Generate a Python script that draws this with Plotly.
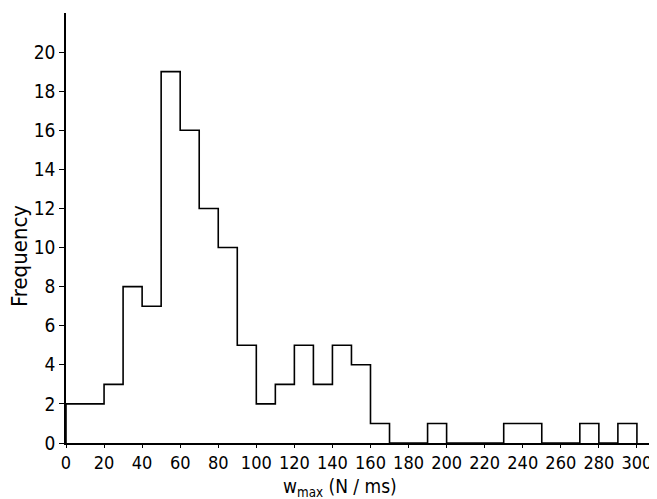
import plotly.graph_objects as go

# histogram of w_max, bin width 10 N/ms
bin_edges = list(range(0, 310, 10))
counts = [2, 2, 3, 8, 7, 19, 16, 12, 10, 5,
          2, 3, 5, 3, 5, 4, 1, 0, 0, 1,
          0, 0, 0, 1, 1, 0, 0, 1, 0, 1]

x_ticks = list(range(0, 310, 20))
y_ticks = list(range(0, 22, 2))

FONT = "DejaVu Sans Condensed, DejaVu Sans, sans-serif"

# step outline: start at baseline, go up, end back at baseline
xs = [bin_edges[0]] + bin_edges
ys = [0] + counts + [0]

fig = go.Figure()

fig.add_trace(
    go.Scatter(
        x=xs,
        y=ys,
        mode="lines",
        line={"color": "black", "width": 1.6, "shape": "hv"},
        showlegend=False,
        hoverinfo="skip",
    )
)

# page body has an 8px margin, so the figure is a bit smaller than the window
fig.update_layout(
    width=649,
    height=491,
    margin={"l": 58, "r": 2, "t": 5, "b": 56},
    plot_bgcolor="white",
    paper_bgcolor="white",
    font={"family": FONT, "size": 18, "color": "black"},
    xaxis={
        "range": [0, 309.5],
        "tickvals": x_ticks,
        "ticks": "outside",
        "ticklen": 3,
        "tickwidth": 1,
        "tickcolor": "black",
        "tickfont": {"family": FONT, "size": 18},
        "showline": True,
        "linecolor": "black",
        "linewidth": 1.5,
        "showgrid": False,
        "zeroline": False,
        "fixedrange": True,
    },
    yaxis={
        "range": [0, 22],
        "tickvals": y_ticks,
        "ticks": "outside",
        "ticklen": 5,
        "tickwidth": 1,
        "tickcolor": "black",
        "tickfont": {"family": FONT, "size": 19},
        "showline": True,
        "linecolor": "black",
        "linewidth": 1.5,
        "showgrid": False,
        "zeroline": False,
        "fixedrange": True,
    },
    annotations=[
        {
            "text": "w<sub>max</sub> (N / ms)",
            "xref": "paper", "yref": "paper",
            "x": 0.465, "y": -0.104,
            "xanchor": "center", "yanchor": "middle",
            "showarrow": False,
            "font": {"family": FONT, "size": 19},
        },
        {
            "text": "Frequency",
            "xref": "paper", "yref": "paper",
            "x": -0.078, "y": 0.435,
            "xanchor": "center", "yanchor": "middle",
            "textangle": -90,
            "showarrow": False,
            "font": {"family": FONT, "size": 22},
        },
    ],
)

fig.write_html("out.html")
